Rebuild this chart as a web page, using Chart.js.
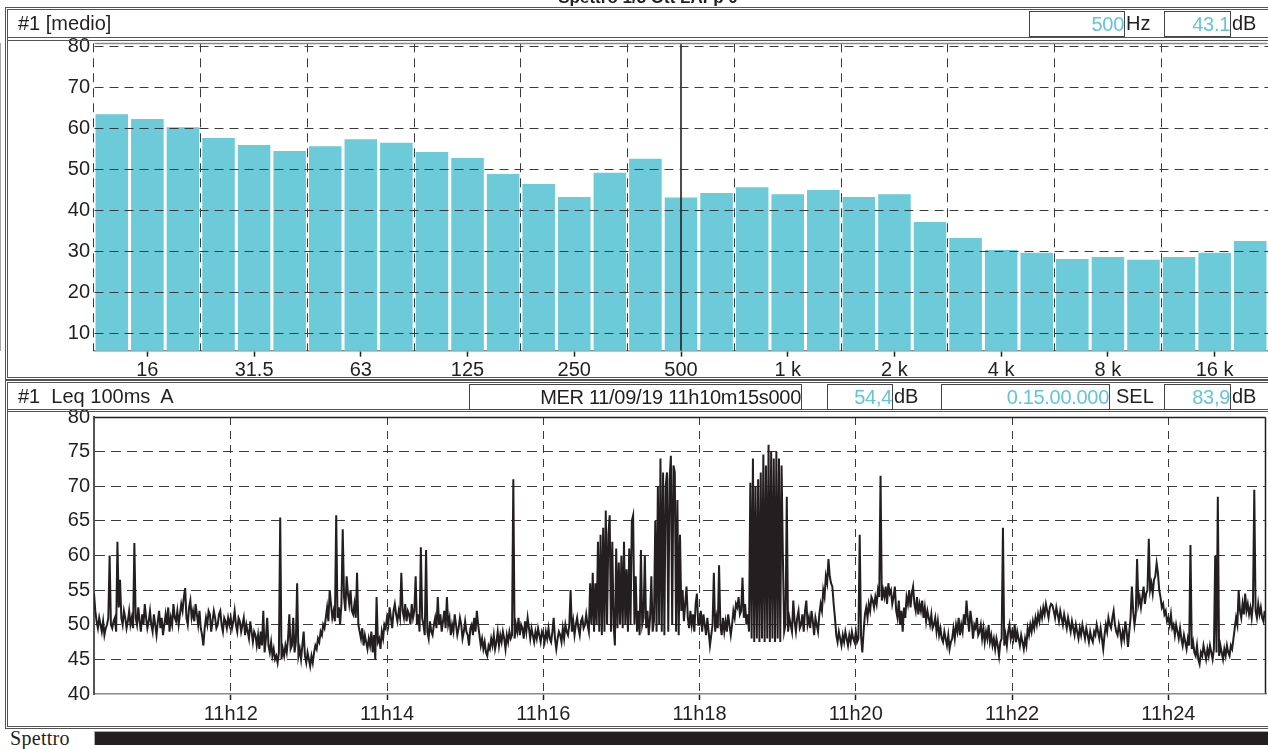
<!DOCTYPE html>
<html><head><meta charset="utf-8">
<script src="https://cdn.jsdelivr.net/npm/chart.js@4.4.1/dist/chart.umd.min.js"></script>
<style>
html,body{margin:0;padding:0;background:#fff;width:1268px;height:749px;overflow:hidden;font-family:'Liberation Sans',Arial,sans-serif;color:#231f20;}
.abs{position:absolute;}
#title{position:absolute;left:0;width:1296px;top:-11px;text-align:center;font-weight:bold;font-size:17px;line-height:17px;z-index:3;}
.panel{position:absolute;left:5px;width:1285px;border:3px double #555;box-sizing:border-box;z-index:2;pointer-events:none;}
.hdr{position:absolute;left:8px;width:1280px;box-sizing:border-box;z-index:3;font-size:20px;white-space:pre;}
.box{position:absolute;border:1px solid #444;box-sizing:border-box;height:26px;text-align:right;line-height:24px;font-size:20px;white-space:pre;z-index:4;letter-spacing:-0.3px;}
.lab{position:absolute;height:26px;line-height:24px;font-size:20px;white-space:pre;z-index:4;}
.cy{color:#62c6da;}
</style>
</head><body>
<div id="title">Spettro 1/3 Ott LAFp 0</div>
<div class="abs" style="left:0;top:0;width:1268px;height:380px;z-index:1"><canvas id="spec" width="1268" height="380"></canvas></div>
<div class="abs" style="left:0;top:390px;width:1268px;height:340px;z-index:1"><canvas id="ts" width="1268" height="340"></canvas></div>

<div class="panel" style="top:7px;height:373px"></div>
<div class="hdr" style="top:10px;height:31px;border-bottom:4px double #555;line-height:27px;padding-left:10px">#1 [medio]</div>
<div class="box cy" style="left:1029px;top:11px;width:96px">500</div>
<div class="lab" style="left:1126px;top:11px">Hz</div>
<div class="box cy" style="left:1164px;top:11px;width:67px">43.1</div>
<div class="lab" style="left:1232px;top:11px">dB</div>

<div class="panel" style="top:380px;height:349px"></div>
<div class="hdr" style="top:383px;height:29px;border-bottom:3px double #555;line-height:26px;padding-left:10px">#1  Leq 100ms  A</div>
<div class="box" style="left:469px;top:384px;width:333px">MER 11/09/19 11h10m15s000</div>
<div class="box cy" style="left:827px;top:384px;width:66px">54,4</div>
<div class="lab" style="left:894px;top:384px">dB</div>
<div class="box cy" style="left:941px;top:384px;width:169px">0.15.00.000</div>
<div class="lab" style="left:1116px;top:384px">SEL</div>
<div class="box cy" style="left:1164px;top:384px;width:67px">83,9</div>
<div class="lab" style="left:1232px;top:384px">dB</div>

<div class="abs" style="left:10px;top:728px;font-family:'Liberation Serif','Times New Roman',serif;font-size:20px;line-height:20px;letter-spacing:0.3px">Spettro</div>
<div class="abs" style="left:94px;top:731px;width:1180px;height:13px;background:#231f20;border-top:1px solid #aaa;border-left:1px solid #aaa"></div>

<script>
// ---------- spectrum (1/3 octave) ----------
const freqBands = ['12.5','16','20','25','31.5','40','50','63','80','100','125','160','200','250','315','400','500','630','800','1 k','1.25 k','1.6 k','2 k','2.5 k','3.15 k','4 k','5 k','6.3 k','8 k','10 k','12.5 k','16 k','20 k'];
const spectrumDb = [63.4,62.2,60.2,57.6,55.9,54.4,55.6,57.3,56.4,54.2,52.7,48.8,46.4,43.2,49.1,52.5,43.1,44.2,45.6,43.9,44.9,43.2,43.9,37.1,33.2,30.3,29.6,28.1,28.6,27.9,28.6,29.6,32.5];
const spectrumTicks = [10,20,30,40,50,60,70,80];
const spectrumRange = [5.76, 80.66];
const cursorBand = '500';

// ---------- Leq 100ms A time history (1 s samples from 11h10m15s) ----------
const lv1110 = [54.5,52,50.5,49.5,51,50,49,50.5,48.5,49.5, 50,51,60,50,49.5,50.5,51,49,62,52.5, 56.5,51,50,52,51,49.5,50.5,52,50,51, 49.5,61.8,51,50,52.5,50.5,49,51.5,50,53, 51,49.5,50.5,52,50];
const lv1111 = [49,51.5,50,48.5,50.5,52,49.5,51,48.5,50, 51.5,50,52.5,49,51,50,53,51,50.5,52, 50,51.5,53,52,54,55.3,51,50,52.5,53.5, 51,52,50.5,53,51.5,50,52,49.5,48.5,47, 49.5,51,50,52,51.5,49,50.5,52,51,49.5, 50,51.5,52,50,49,51,50.5,49.5,51,50];
const lv1112 = [51,49.5,50.5,52,50,49,51,50.5,49,50, 51,48.5,50,49,48,50.5,49,47.5,49,48.5, 47,48.5,46.5,49,47,52,46,48,51,47, 46,47.5,45.5,46.5,45,45.5,44.5,46,65.5,45, 46.5,45.5,47,46,48,51.5,46.5,47,51,46, 47.5,56,45.5,46.5,45,47,49,45.5,44.5,46];
const lv1113 = [45,44,45.5,44.5,46,47,46.5,48,47.5,49, 48.5,50,49.5,51,52.5,50.5,55,53,51,52, 50.5,65.8,51,52.5,50,53,63.8,54,52,57, 54.5,53,55,52,51.5,53,51,57.5,50,49, 48,49.5,47,48.5,47.5,46.5,48,47,49,46, 48.5,45,54,47.5,48,46.5,49,48,50,49.5];
const lv1114 = [51,50,52.5,51,49.5,52,53,51.5,50.5,52, 51,57.5,52,51,53,50.5,52,51.5,50,53, 51,52,57,50,51.5,49,61.2,51,50,48.5, 60.8,49,48,50.5,49,48.5,50,51,49.5,54, 50,51.5,49,50.5,52,49.5,54,50,51,48.5, 50,49,51.5,50,48.5,49.5,51,50,48,49];
const lv1115 = [50.5,49,48.5,47,49.5,50,48.5,51,49,52, 50,48.5,47,48,46.5,47.5,46,45.5,47,46.5, 48,47,48.5,46.5,47.5,49,47,48.5,47.5,49, 48,46.5,48.5,47.5,49,48,48.5,71,48,50, 49,51,48.5,50,49.5,48,50.5,49,51,49.5, 48,49.5,48.5,47.5,49,48,49.5,48.5,47.5,49];
const lv1116 = [48.5,47.5,49,48,49.5,48,47.5,49,51,48, 46.5,48,49,48.5,47.5,49.5,48,50,49,48.5, 50,55,49,50.5,48.5,50,51,49.5,48.5,50.5, 51,49.5,50,51.5,50,49,56,50,57.5,49, 56,50,62,49,63,48.5,64,49,66.5,50, 63,65.8,49,62,50,47,61,49.5,59,50];
const lv1117 = [60,49.5,62,50,58,49,61,50,65,65.8, 50,57,49,52,48.5,60.8,50,51,60,49.5, 52,48.5,51,57,49,50.5,65,49,70,50, 74,49,72,48.5,70,72,49,71,74.4,50, 73,72,49,68,48.5,63,52,55,50.5,53, 55.5,51,49.5,52,50,51.5,49,53,54.5,50];
const lv1118 = [50,52,49,51.5,50,48.5,51,49,47,48.5, 50,57.5,49,51,49.5,58.6,50,48.5,51,49, 50.5,49,51.5,50,48.5,50,52,51,53,52.5, 54,51.5,52,56.8,51,53,50,51.5,49,70.5, 48,74,47.5,70,48,71,47.5,72,48,74.6, 47.5,73,48,76,47.5,75,48,74,47.5,75];
const lv1119 = [48,74,47.5,73,60,49,50,68.5,49,51, 50,49,53.5,50.5,49,51,52,49.5,50,51.5, 49,52,53.5,50,51,49.5,52,50.5,48.5,51, 50,49,51.5,53,52,55,54,57,56,59.5, 57,56,55.5,53,51,48.5,47.5,49,48,47, 48.5,47.5,49,48,47,48.5,47.5,49,48,47.5];
const lv1120 = [49,47.5,48,63,48.5,46,49,51.5,52.5,51, 53,52,54,53.5,52.5,54,53,55,54,71.5, 53.5,55,54,55.5,53,56,54.5,55,53,54, 55.5,52,51,53.5,50,52,49,52.5,51,54, 53,55,52.5,54.5,55.5,53,52,54,51.5,53, 52,53.5,51,52.5,50.5,52,51,50,51.5,49.5];
const lv1121 = [50,51,49,50.5,48.5,49.5,48,47.5,49,48, 47,48.5,46.5,47.5,48,49.5,48,50,49,51, 48.5,50,49,51.5,50,53.5,51,49,52,50.5, 48,50,49.5,51,48.5,49,50,48,49.5,47.5, 49,48,50,47.5,48.5,47,48,46.5,48,47, 45.5,47.5,48,64,47,48.5,47,49,50,48];
const lv1122 = [49,48,50,47.5,49,48,47,48.5,47.5,46.5, 48,47,49.5,48.5,50,49,50.5,49.5,51,50, 51.5,50.5,52,51,52.5,51.5,53,52,51,52.5, 53,52.8,52,51,52.5,51.5,50.5,52,51,50, 51.5,50.5,49.5,51,50,49,50.5,49.5,48.5,50, 49,48,49.5,48.5,50,49,48,49.5,48.5,47.5];
const lv1123 = [49,48,47.5,49,48.5,50,49,48,49.5,48, 46.5,48.5,50,49,51,50,49.5,51,52,50, 49,48.5,50,49,47.5,49,48,50.5,49,46.8, 49,51,55.5,52,50,51.5,59.5,53,54,52.5, 54,55.5,53,54.5,55,62.4,55,56,54.5,56.5, 57,58.9,57.5,55,54,52.5,53,51.5,52,50.5];
const lv1124 = [51,50,51.5,49.5,50,48.5,50,49,48,49.5, 48,47,48.5,47.5,46.5,48,47,61.5,46.5,47.5, 46,45.5,47,45,44.3,46,45.5,47,46,45, 46.5,45.5,47,46,45,46.5,60,46,68.5,45.5, 47,46,45,46.5,45.5,47,46,45.5,47,46.5, 48,49.5,51,50,55,52,51,53,51.5,54.5];
const lv1125 = [52,53,51.5,52.5,51,53,69.5,52,51,53,51.5,52.5,51,50.5,52];

const timeTickSeconds = [105,225,345,465,585,705,825];
const timeTickLabels = ['11h12','11h14','11h16','11h18','11h20','11h22','11h24'];
const levelTicks = [40,45,50,55,60,65,70,75,80];
const durationSeconds = 900;

const levels = [].concat(lv1110,lv1111,lv1112,lv1113,lv1114,lv1115,lv1116,lv1117,lv1118,lv1119,lv1120,lv1121,lv1122,lv1123,lv1124,lv1125);

// ---------- shared styling ----------
const INK = '#231f20';
const FONT = {family:"'Liberation Sans', Arial, sans-serif", size:20};
Chart.defaults.font.family = FONT.family;
Chart.defaults.color = INK;

const framePlugin = {
  id: 'frame',
  afterDraw(chart, args, opts) {
    const {ctx, chartArea: a} = chart;
    const L = Math.round(a.left) + 0.5, R = Math.round(a.right) - 0.5;
    const T = Math.round(a.top) + 0.5, B = Math.round(a.bottom) - 0.5;
    ctx.save();
    ctx.lineWidth = opts.width || 1;
    if (opts.top) { ctx.strokeStyle = opts.top; ctx.beginPath(); ctx.moveTo(L, T); ctx.lineTo(R, T); ctx.stroke(); }
    if (opts.right) { ctx.strokeStyle = opts.right; ctx.beginPath(); ctx.moveTo(R, T); ctx.lineTo(R, B); ctx.stroke(); }
    ctx.restore();
  }
};

// ---------- spectrum chart ----------
new Chart(document.getElementById('spec'), {
  data: {
    labels: freqBands,
    datasets: [
      { type:'line', xAxisID:'x', yAxisID:'y', order:0,
        data:[{x:cursorBand, y:spectrumRange[0]}, {x:cursorBand, y:spectrumRange[1]}],
        borderColor:INK, borderWidth:1.6, pointRadius:0, fill:false },
      { type:'bar', xAxisID:'x', yAxisID:'y', order:1,
        data: spectrumDb, backgroundColor:'#6ccad9', borderWidth:0,
        categoryPercentage:1, barPercentage:0.915 }
    ]
  },
  options: {
    responsive:false, animation:false, devicePixelRatio:1,
    layout:{ autoPadding:false, padding:{top:43.3, left:0, right:0, bottom:0} },
    plugins:{ legend:{display:false}, tooltip:{enabled:false}, title:{display:false},
      frame:{ top:'#8a8a8a', width:1.5 } },
    scales: {
      x: { type:'category', position:'bottom', offset:true,
        grid:{ offset:false, drawOnChartArea:false, drawTicks:true, tickLength:6, tickWidth:1.5,
          tickColor:(c)=> (c.index % 3 === 1 ? INK : 'rgba(0,0,0,0)') },
        border:{ display:true, color:'#8a8a8a', width:1.5 },
        ticks:{ autoSkip:false, maxRotation:0, minRotation:0, padding:2, font:FONT, color:INK,
          callback:(v, i)=> (i % 3 === 1 ? freqBands[i] : '') },
        afterFit:(s)=>{ s.height = 29.3; } },
      x2: { type:'category', position:'bottom', offset:true, display:true,
        grid:{ offset:true, drawTicks:false, z:1, lineWidth:1,
          color:(c)=> (c.index % 3 === 0 ? '#3a3a3a' : 'rgba(0,0,0,0)') },
        border:{ display:false, dash:[9,6] },
        ticks:{ display:false },
        afterFit:(s)=>{ s.height = 0; } },
      y: { type:'linear', position:'left', min:spectrumRange[0], max:spectrumRange[1],
        afterBuildTicks:(s)=>{ s.ticks = spectrumTicks.map(v=>({value:v})); },
        grid:{ color:'#3a3a3a', lineWidth:1, drawTicks:false, z:1 },
        border:{ display:true, color:'#8a8a8a', width:1.5, dash:[9,6] },
        ticks:{ font:FONT, color:INK, padding:4 },
        afterFit:(s)=>{ s.width = 94; } }
    }
  },
  plugins:[framePlugin]
});

// ---------- time history chart ----------
new Chart(document.getElementById('ts'), {
  type:'line',
  data: {
    datasets: [{
      data: levels.map((v, i)=>({x:i, y:v})),
      borderColor:INK, borderWidth:2, pointRadius:0, fill:false, tension:0
    }]
  },
  options: {
    responsive:false, animation:false, devicePixelRatio:1, normalized:true,
    layout:{ autoPadding:false, padding:{top:27, left:0, right:2, bottom:0} },
    plugins:{ legend:{display:false}, tooltip:{enabled:false},
      frame:{ top:INK, right:INK, width:1.5 } },
    scales: {
      x: { type:'linear', min:0, max:durationSeconds,
        afterBuildTicks:(s)=>{ s.ticks = timeTickSeconds.map(v=>({value:v})); },
        grid:{ color:'#3a3a3a', lineWidth:1, drawTicks:true, tickLength:6, tickWidth:1.5, tickColor:INK },
        border:{ display:true, color:'#8a8a8a', width:1.5, dash:[8,6] },
        ticks:{ font:FONT, color:INK, padding:2, maxRotation:0, autoSkip:false,
          callback:(v, i)=> timeTickLabels[i] },
        afterFit:(s)=>{ s.height = 36; } },
      y: { type:'linear', min:40, max:80,
        afterBuildTicks:(s)=>{ s.ticks = levelTicks.map(v=>({value:v})); },
        grid:{ lineWidth:1, drawTicks:false,
          color:(c)=> (c.tick && (c.tick.value === 40 || c.tick.value === 80) ? 'rgba(0,0,0,0)' : '#3a3a3a') },
        border:{ display:true, color:'#555', width:2, dash:[10,6] },
        ticks:{ font:FONT, color:INK, padding:4 },
        afterFit:(s)=>{ s.width = 94; } }
    }
  },
  plugins:[framePlugin]
});
</script>
</body></html>
